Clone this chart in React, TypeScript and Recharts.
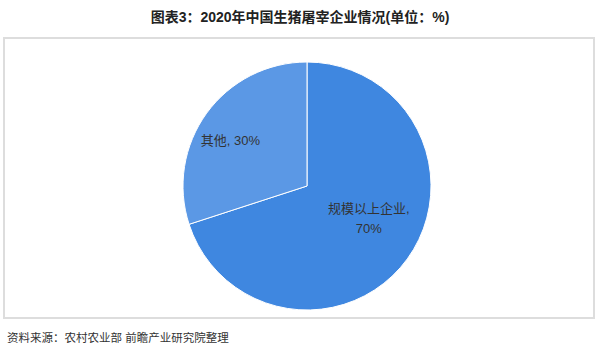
import React from 'react';
import { PieChart, Pie, Cell } from 'recharts';

const categories = ['规模以上企业', '其他'];
const values = [70, 30];
const colors = ['#3F87E0', '#5B98E5'];

const data = categories.map((name, i) => ({ name, value: values[i] }));

const FONT = '"Liberation Sans", Arial, "Noto Sans CJK SC", sans-serif';
const RADIAN = Math.PI / 180;

// label placement: radius factor and angle shift per slice
const labelRadius = [0.56, 0.72];
const labelShift = [9, 5];

const renderLabel = (props: any) => {
  const { cx, cy, midAngle, outerRadius, index, name, value } = props;
  const r = outerRadius * labelRadius[index];
  const a = (midAngle + labelShift[index]) * RADIAN;
  const x = cx + r * Math.cos(-a);
  const y = cy + r * Math.sin(-a);
  if (index === 0) {
    return (
      <text x={x} y={y} textAnchor="middle" dominantBaseline="central" fill="#333" fontSize={13} fontFamily={FONT}>
        <tspan x={x} dy={-10}>{name},</tspan>
        <tspan x={x} dy={20}>{value}%</tspan>
      </text>
    );
  }
  return (
    <text x={x} y={y} textAnchor="middle" dominantBaseline="central" fill="#333" fontSize={13} fontFamily={FONT}>
      {name}, {value}%
    </text>
  );
};

export default function App() {
  return (
    <div style={{ position: 'fixed', left: 0, top: 0, width: 600, height: 354, background: '#fff', fontFamily: FONT }}>
      <div style={{ position: 'absolute', left: 0, top: 6, width: 600, textAlign: 'center', fontSize: 14, fontWeight: 'bold', color: '#222' }}>
        图表3：2020年中国生猪屠宰企业情况(单位：%)
      </div>
      <div style={{ position: 'absolute', left: 3, top: 37, width: 588, height: 278, border: '2px solid #ddd' }} />
      <div style={{ position: 'absolute', left: 0, top: 0 }}>
        <PieChart width={600} height={354}>
          <Pie
            data={data}
            dataKey="value"
            nameKey="name"
            cx={302}
            cy={181}
            outerRadius={124}
            startAngle={90}
            endAngle={-270}
            stroke="#fff"
            strokeWidth={1}
            label={renderLabel}
            labelLine={false}
            isAnimationActive={false}
          >
            {data.map((d, i) => (
              <Cell key={d.name} fill={colors[i]} />
            ))}
          </Pie>
        </PieChart>
      </div>
      <div style={{ position: 'absolute', left: 7, top: 329, fontSize: 11.5, color: '#333' }}>
        资料来源：农村农业部 前瞻产业研究院整理
      </div>
    </div>
  );
}
